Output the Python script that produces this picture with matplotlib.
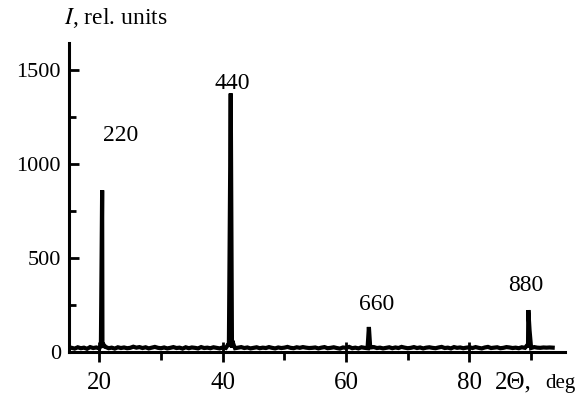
import numpy as np
import matplotlib
matplotlib.use("Agg")
import matplotlib.pyplot as plt
from matplotlib.ticker import MultipleLocator

plt.rcParams["font.family"] = ["Liberation Serif", "DejaVu Serif"]
plt.rcParams["mathtext.fontset"] = "stix"

# background trace, read roughly every half degree (15.5 ... 93.5)
base_2theta = np.arange(15.5, 93.6, 0.5)
base_counts = [22, 18, 25, 20, 23, 17, 26, 21, 24, 19, 22, 27, 20, 23, 18, 25,
               21, 24, 20, 22, 28, 23, 26, 21, 25, 19, 23, 27, 22, 20, 24, 19,
               22, 26, 21, 23, 18, 25, 20, 24, 22, 19, 26, 21, 23, 20, 25, 22,
               19, 24, 21, 27, 22, 20, 23, 26, 21, 24, 19, 22, 25, 20, 23, 21,
               26, 22, 19, 24, 21, 23, 27, 22, 20, 25, 22, 26, 23, 21, 22, 24,
               19, 23, 26, 20, 22, 25, 21, 18, 24, 22, 27, 20, 23, 19, 25, 22,
               20, 24, 26, 21, 23, 19, 22, 25, 20, 24, 21, 27, 23, 20, 22, 26,
               21, 24, 19, 23, 25, 22, 20, 24, 27, 21, 23, 19, 26, 22, 24, 20,
               23, 25, 21, 26, 22, 19, 24, 27, 21, 23, 25, 20, 22, 26, 24, 21,
               23, 20, 25, 22, 24, 21, 26, 23, 22, 24, 23, 24, 23]

# reflections (points across each peak)
peak_2theta = [20.25, 20.45, 20.65,
               41.0, 41.3, 41.55, 41.8,
               63.5, 63.7, 63.9,
               89.35, 89.55, 89.75, 89.95]
peak_counts = [35, 860, 40,
               45, 1375, 60, 35,
               28, 133, 30,
               35, 223, 115, 35]

peak_labels = ["220", "440", "660", "880"]
label_x = [23.4, 41.6, 65.0, 89.2]
label_y = [1150, 1430, 250, 355]

x = np.concatenate([base_2theta, peak_2theta])
y = np.concatenate([base_counts, peak_counts])
order = np.argsort(x)
x, y = x[order], y[order]

fig = plt.figure(figsize=(5.81, 3.97), dpi=100)
ax = fig.add_axes([0.119, 0.1134, 0.8535, 0.778])

ax.plot(x, y, color="black", linewidth=3.0, solid_joinstyle="miter")

ax.set_xlim(15.1, 95.5)
ax.set_ylim(0, 1643)
for s in ("top", "right"):
    ax.spines[s].set_visible(False)
for s in ("left", "bottom"):
    ax.spines[s].set_linewidth(2.2)

ax.xaxis.set_major_locator(MultipleLocator(20))
ax.xaxis.set_minor_locator(MultipleLocator(10))
ax.yaxis.set_major_locator(MultipleLocator(500))
ax.yaxis.set_minor_locator(MultipleLocator(250))
ax.tick_params(axis="x", which="major", direction="inout", length=14,
               width=2, labelsize=18, pad=7.5)
ax.tick_params(axis="x", which="minor", direction="out", length=6, width=2)
ax.tick_params(axis="y", which="major", direction="in", length=7,
               width=2, labelsize=16, pad=6)
ax.tick_params(axis="y", which="minor", direction="in", length=5, width=2)

for lab, lx, ly in zip(peak_labels, label_x, label_y):
    ax.text(lx, ly, lab, fontsize=17, ha="center", va="center")

fig.text(0.111, 0.955, "$I$, rel. units", fontsize=17, ha="left", va="center")
fig.text(0.851, 0.022, "2\u0398,", fontsize=18, ha="left", va="baseline")
fig.text(0.938, 0.022, "deg", fontsize=15, ha="left", va="baseline")

fig.savefig("out.png", dpi=100)
